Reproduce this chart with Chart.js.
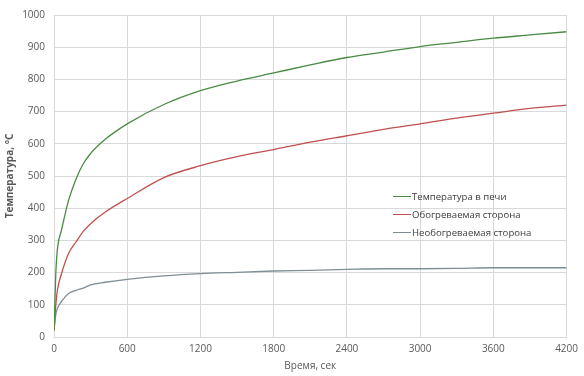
<!DOCTYPE html>
<html>
<head>
<meta charset="utf-8">
<script src="https://cdn.jsdelivr.net/npm/chart.js@4/dist/chart.umd.min.js"></script>
<style>
  html, body { margin: 0; padding: 0; background: #fff; }
  #wrap { position: relative; width: 584px; height: 376px; }
  #legend { position: absolute; left: 393px; top: 188px; font: 9.6px "Open Sans", sans-serif; color: #404040; }
  #legend div { height: 18px; line-height: 18px; white-space: nowrap; position: relative; padding-left: 19px; }
  #legend span.ln { position: absolute; left: 0; top: 8px; width: 18px; height: 1px; }
</style>
</head>
<body>
<div id="wrap">
  <canvas id="chart" width="584" height="376"></canvas>
  <div id="legend"></div>
</div>
<script>
// время, сек
const times = [0, 15, 30, 60, 120, 180, 240, 300, 420, 600, 900, 1200, 1500, 1800, 2100, 2400, 2700, 3000, 3300, 3600, 3900, 4200];

const pech = [20, 200, 280, 330, 425, 490, 538, 570, 614, 662, 722, 765, 795, 820, 845, 868, 885, 902, 915, 928, 938, 948];
const obogr = [20, 100, 150, 195, 260, 295, 328, 352, 388, 430, 495, 532, 560, 582, 605, 625, 645, 662, 680, 695, 710, 720];
const neobogr = [20, 70, 90, 110, 135, 145, 152, 162, 170, 179, 190, 197, 201, 205, 207, 210, 212, 212, 213, 215, 215, 215];

const seriesNames = ['Температура в печи', 'Обогреваемая сторона', 'Необогреваемая сторона'];
const xTicks = [0, 600, 1200, 1800, 2400, 3000, 3600, 4200];
const yTicks = [0, 100, 200, 300, 400, 500, 600, 700, 800, 900, 1000];

const colors = ['#4a8b45', '#c0504d', '#7d8e96'];
const values = [pech, obogr, neobogr];

function toPoints(arr) {
  return arr.map((v, i) => ({ x: times[i], y: v }));
}

const datasets = values.map((arr, i) => ({
  label: seriesNames[i],
  data: toPoints(arr),
  borderColor: colors[i],
  borderWidth: 1.3,
  pointRadius: 0,
  fill: false,
  cubicInterpolationMode: 'monotone'
}));

const tickFont = { family: '"Open Sans", sans-serif', size: 10 };

new Chart(document.getElementById('chart').getContext('2d'), {
  type: 'line',
  data: { datasets: datasets },
  options: {
    responsive: false,
    animation: false,
    layout: { padding: { top: 13, right: 17, left: 0, bottom: 0 } },
    plugins: { legend: { display: false }, tooltip: { enabled: false } },
    scales: {
      x: {
        type: 'linear',
        min: 0, max: 4200,
        afterBuildTicks: s => { s.ticks = xTicks.map(v => ({ value: v })); },
        afterFit: s => { s.height = 39; },
        grid: { color: '#d9d9d9', drawTicks: false },
        border: { color: '#d9d9d9' },
        ticks: { color: '#595959', font: tickFont, padding: 6, maxRotation: 0, callback: v => String(v) },
        title: { display: true, text: 'Время, сек', color: '#595959', font: { family: '"Open Sans", sans-serif', size: 10 }, padding: { top: 2 } }
      },
      y: {
        min: 0, max: 1000,
        afterBuildTicks: s => { s.ticks = yTicks.map(v => ({ value: v })); },
        afterFit: s => { s.width = 54; },
        grid: { color: '#d9d9d9', drawTicks: false },
        border: { color: '#d9d9d9' },
        ticks: { color: '#595959', font: tickFont, padding: 9, callback: v => String(v) },
        title: { display: true, text: 'Температура, °C', color: '#595959', font: { family: '"Open Sans", sans-serif', size: 10, weight: 'bold' }, padding: { bottom: 0 } }
      }
    }
  }
});

const lg = document.getElementById('legend');
seriesNames.forEach((name, i) => {
  const d = document.createElement('div');
  const ln = document.createElement('span');
  ln.className = 'ln';
  ln.style.background = colors[i];
  d.appendChild(ln);
  d.appendChild(document.createTextNode(name));
  lg.appendChild(d);
});
</script>
</body>
</html>
